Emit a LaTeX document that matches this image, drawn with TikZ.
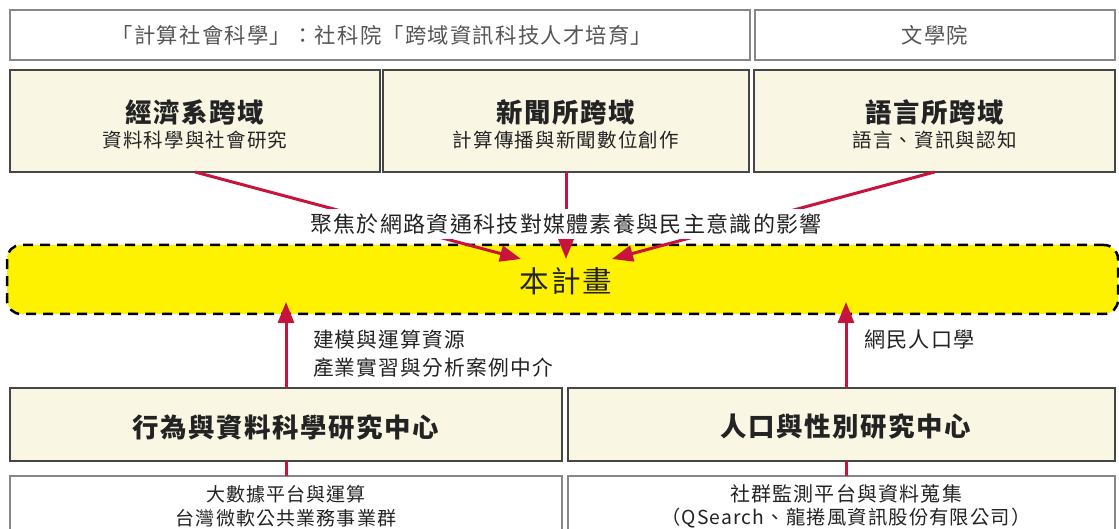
\documentclass[tikz,border=0pt]{standalone}
\usepackage{fontspec}
\setmainfont{Noto Sans CJK TC}[LetterSpace=6]
\usetikzlibrary{arrows.meta}
\definecolor{cream}{RGB}{249,247,228}
\definecolor{ylw}{RGB}{255,242,0}
\definecolor{arr}{RGB}{200,20,60}
\definecolor{bord}{RGB}{70,70,70}
\definecolor{lbord}{RGB}{135,135,135}
\definecolor{txt}{RGB}{35,35,35}
\definecolor{gtxt}{RGB}{85,85,85}
\newcommand{\fs}[1]{\fontsize{#1}{#1}\selectfont}
\begin{document}
\begin{tikzpicture}[x=1pt,y=-1pt,
  every node/.style={inner sep=0pt,outer sep=0pt,text=txt},
  topbox/.style={draw=lbord,line width=1.4pt,fill=white},
  midbox/.style={draw=bord,line width=2pt,fill=cream},
  lowbox/.style={draw=lbord,line width=1.4pt,fill=white},
  plan/.style={draw=black,line width=2.5pt,dash pattern=on 10pt off 7pt,fill=ylw,rounded corners=14pt},
  link/.style={draw=arr,line width=3pt},
  tip/.style={link,-{Triangle[length=21pt,width=16pt]}},
  ttl/.style={font=\fs{26.4}\bfseries},
  sub/.style={font=\fs{19.5},text=txt},
]
\useasboundingbox (0,0) rectangle (1119,529);
% top row
\node[topbox,minimum width=740pt,minimum height=50pt] (top1) at (380,35) {};
\node[topbox,minimum width=360pt,minimum height=50pt] (top2) at (935,35) {};
\node[font=\fs{21.3},text=gtxt] (top1t) at (382,35) {「計算社會科學」：社科院「跨域資訊科技人才培育」};
\node[font=\fs{21.3},text=gtxt] (top2t) at (935,35) {文學院};
% second row
\node[midbox,minimum width=370pt,minimum height=102pt] (A) at (195,121) {};
\node[midbox,minimum width=366pt,minimum height=102pt] (B) at (566,121) {};
\node[midbox,minimum width=361pt,minimum height=102pt] (C) at (934.5,121) {};
\node[ttl] (At) at (195,112) {經濟系跨域};
\node[sub] (As) at (195,140) {資料科學與社會研究};
\node[ttl] (Bt) at (566,112) {新聞所跨域};
\node[sub] (Bs) at (566,140) {計算傳播與新聞數位創作};
\node[ttl] (Ct) at (934.5,112) {語言所跨域};
\node[sub] (Cs) at (934.5,140) {語言、資訊與認知};
% project
\node[plan,minimum width=1111pt,minimum height=69pt] (P) at (562.5,279.5) {};
\node[font=\fs{29.6}] (Pt) at (566,281) {本計畫};
% third and fourth rows
\node[midbox,minimum width=552pt,minimum height=73pt] (L3) at (286,424.5) {};
\node[midbox,minimum width=547pt,minimum height=73pt] (R3) at (841.5,424.5) {};
\node[font=\fs{26.4}\bfseries] (L3t) at (286,427) {行為與資料科學研究中心};
\node[font=\fs{26.4}\bfseries] (R3t) at (846,427) {人口與性別研究中心};
\node[lowbox,minimum width=552pt,minimum height=62pt] (L4) at (286,507) {};
\node[lowbox,minimum width=547pt,minimum height=62pt] (R4) at (841.5,507) {};
\node[font=\fs{19}] (L4a) at (286,494) {大數據平台與運算};
\node[font=\fs{19}] (L4b) at (286,518) {台灣微軟公共業務事業群};
\node[font=\fs{20}] (R4a) at (846,494) {社群監測平台與資料蒐集};
\node[font=\fs{19.3}] (R4b) at (846,518) {（QSearch、龍捲風資訊股份有限公司）};
% connectors
\coordinate (tL) at (521,259);
\coordinate (tM) at (566,259);
\coordinate (tR) at (612,259);
\coordinate (bL) at (286,302);
\coordinate (bR) at (846,302);
\draw[tip] (A.south) -- (tL);
\draw[tip] (B.south) -- (tM);
\draw[tip] (C.south) -- (tR);
\draw[tip] (L3.north) -- (bL);
\draw[tip] ([xshift=4.5pt]R3.north) -- (bR);
\draw[link] (L3.south) -- (L4.north);
\draw[link] ([xshift=4.5pt]R3.south) -- ([xshift=4.5pt]R4.north);
% labels
\node[fill=white,inner xsep=3pt,inner ysep=5pt,font=\fs{22}] (focus) at (566,224) {聚焦於網路資通科技對媒體素養與民主意識的影響};
\node[anchor=west,font=\fs{20.7}] (l1) at (313,340) {建模與運算資源};
\node[anchor=west,font=\fs{20.7}] (l2) at (313,368) {產業實習與分析案例中介};
\node[anchor=west,font=\fs{21.1}] (r1) at (864,340) {網民人口學};
\end{tikzpicture}
\end{document}
